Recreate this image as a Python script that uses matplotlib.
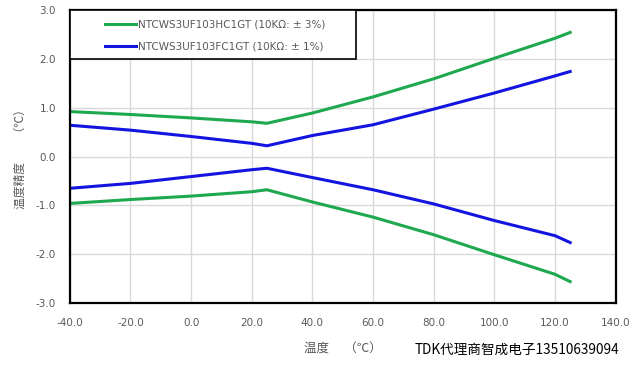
import matplotlib
matplotlib.use("Agg")
import matplotlib.pyplot as plt
from matplotlib.patches import Rectangle

# temperature points
temps = [-40, -20, 0, 20, 25, 40, 60, 80, 100, 120, 125]

# NTCWS3UF103HC1GT (+/-3%)
hc_upper = [0.92, 0.86, 0.79, 0.71, 0.68, 0.89, 1.22, 1.59, 2.01, 2.42, 2.54]
hc_lower = [-0.96, -0.88, -0.81, -0.72, -0.68, -0.93, -1.24, -1.60, -2.01, -2.41, -2.56]

# NTCWS3UF103FC1GT (+/-1%)
fc_upper = [0.64, 0.54, 0.41, 0.27, 0.22, 0.43, 0.65, 0.97, 1.30, 1.65, 1.74]
fc_lower = [-0.65, -0.55, -0.41, -0.27, -0.24, -0.43, -0.68, -0.97, -1.31, -1.62, -1.76]

labels = ["NTCWS3UF103HC1GT (10KΩ: ± 3%)", "NTCWS3UF103FC1GT (10KΩ: ± 1%)"]
x_ticks = [-40, -20, 0, 20, 40, 60, 80, 100, 120, 140]
y_ticks = [-3, -2, -1, 0, 1, 2, 3]

green = "#1ea84f"
blue = "#1414e0"
grey = "#595959"
cjk = ["Noto Sans CJK SC", "DejaVu Sans"]

fig = plt.figure(figsize=(6.4, 3.67), dpi=100)
ax = fig.add_axes([0.109, 0.174, 0.853, 0.799])

ax.plot(temps, hc_upper, color=green, lw=2.2, label=labels[0])
ax.plot(temps, hc_lower, color=green, lw=2.2)
ax.plot(temps, fc_upper, color=blue, lw=2.2, label=labels[1])
ax.plot(temps, fc_lower, color=blue, lw=2.2)

ax.set_xlim(-40, 140)
ax.set_ylim(-3, 3)
ax.set_xticks(x_ticks)
ax.set_yticks(y_ticks)
ax.set_xticklabels([f"{v:.1f}" for v in x_ticks])
ax.set_yticklabels([f"{v:.1f}" for v in y_ticks])
ax.tick_params(length=0, labelsize=7.5, labelcolor=grey)
ax.tick_params(axis="x", pad=11)
ax.tick_params(axis="y", pad=10)
ax.grid(color="#d9d9d9", lw=1)
ax.set_axisbelow(True)
for s in ax.spines.values():
    s.set_linewidth(1.6)
    s.set_color("black")

ax.set_xlabel("温度　 （℃）", family=cjk, fontsize=9, color=grey, labelpad=10)
ax.set_ylabel("温度精度　　（℃）", family=cjk, fontsize=8.5, color=grey, labelpad=6)

# legend box: white panel in the top-left corner of the plot
ax.add_patch(Rectangle((0, 0.833), 0.524, 0.167, transform=ax.transAxes,
                       facecolor="white", edgecolor="black", lw=1.2, zorder=3,
                       clip_on=False))
leg = ax.legend(loc="upper left", bbox_to_anchor=(0.048, 1.0), borderaxespad=0,
                frameon=False, fontsize=7.5, handlelength=2.9,
                handletextpad=0.2, labelspacing=1.15, borderpad=0.9)
leg.set_zorder(4)
for t in leg.get_texts():
    t.set_color(grey)

fig.text(0.648, 0.035, "TDK代理商智成电子13510639094", family=cjk,
         fontsize=9.8, color="black")

fig.savefig("out.png", dpi=100)
